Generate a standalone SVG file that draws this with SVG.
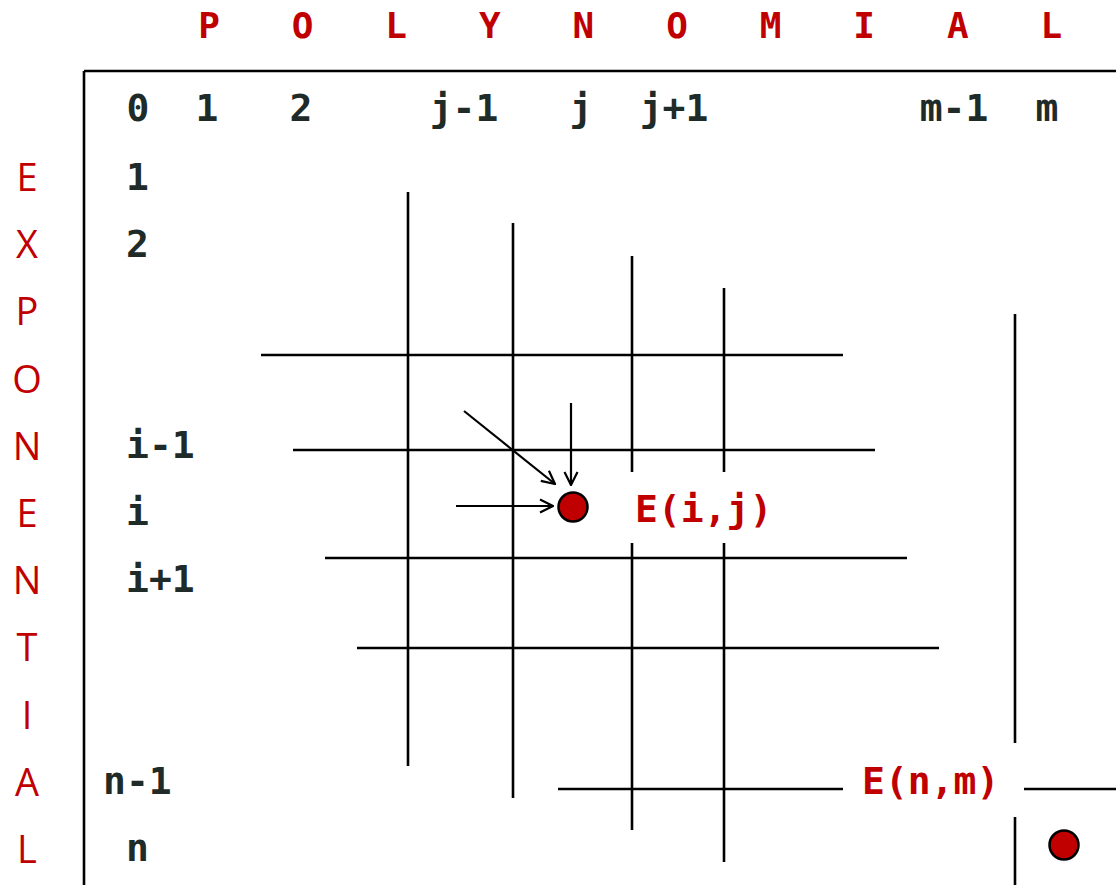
<svg xmlns="http://www.w3.org/2000/svg" width="1116" height="885" viewBox="0 0 1116 885">
<defs>
<style>
.ln{stroke:#000;stroke-width:2.6;fill:none;stroke-linecap:butt}
.ar{stroke:#000;stroke-width:2.2;fill:none}
.title{font-family:"DejaVu Sans Mono","Liberation Mono",monospace;font-weight:bold;font-size:36px;fill:#c00000;text-anchor:middle}
.side{font-family:"Open Sans","Liberation Sans",sans-serif;font-size:38px;fill:#c00000;text-anchor:middle}
.lab{font-family:"DejaVu Sans Mono","Liberation Mono",monospace;font-weight:bold;font-size:38px;fill:#1f2b28}
.hdr{text-anchor:middle}
.red{font-family:"DejaVu Sans Mono","Liberation Mono",monospace;font-weight:bold;font-size:38px;fill:#c00000}
.dot{fill:#c00000;stroke:#000;stroke-width:2.5}
</style>
<marker id="arr" viewBox="0 0 16 16" refX="15" refY="8" markerWidth="16" markerHeight="16" markerUnits="userSpaceOnUse" orient="auto">
<path d="M2,1.5 L15,8 L2,14.5" fill="none" stroke="#000" stroke-width="2.2"/>
</marker>
</defs>
<rect width="1116" height="885" fill="#fff"/>

<g id="title">
<text class="title" y="38" x="209 302.6 396.2 489.8 583.4 677 770.6 864.2 957.8 1051.4">POLYNOMIAL</text>
</g>

<g id="side">
<text class="side" x="27" y="191">E</text>
<text class="side" x="27" y="258.2">X</text>
<text class="side" x="27" y="325.4">P</text>
<text class="side" x="27" y="392.6">O</text>
<text class="side" x="27" y="459.8">N</text>
<text class="side" x="27" y="527">E</text>
<text class="side" x="27" y="594.2">N</text>
<text class="side" x="27" y="661.4">T</text>
<text class="side" x="27" y="728.6">I</text>
<text class="side" x="27" y="795.8">A</text>
<text class="side" x="27" y="863">L</text>
</g>

<g id="frame">
<path class="ln" d="M84,71 H1116 M84,71 V885" stroke-width="3"/>
</g>

<g id="col-labels">
<text class="lab hdr" x="138" y="121">0</text>
<text class="lab hdr" x="207" y="121">1</text>
<text class="lab hdr" x="301" y="121">2</text>
<text class="lab hdr" x="464" y="121">j-1</text>
<text class="lab hdr" x="581" y="121">j</text>
<text class="lab hdr" x="674" y="121">j+1</text>
<text class="lab hdr" x="954" y="121">m-1</text>
<text class="lab hdr" x="1047" y="121">m</text>
</g>

<g id="row-labels">
<text class="lab" x="126" y="190">1</text>
<text class="lab" x="126" y="257">2</text>
<text class="lab" x="126" y="458">i-1</text>
<text class="lab" x="126" y="525">i</text>
<text class="lab" x="126" y="592">i+1</text>
<text class="lab" x="103" y="794">n-1</text>
<text class="lab" x="126" y="861">n</text>
</g>

<g id="grid">
<path class="ln" d="M408,192 V766 M513,223 V798 M632,256 V472 M632,543 V830 M724,288 V472 M724,543 V862 M1015,314 V743 M1015,817 V885"/>
<path class="ln" d="M261,355 H843 M293,450 H875 M325,558 H907 M357,648 H939 M558,789 H843 M1024,789 H1116"/>
</g>

<g id="connectors">
<line class="ar" x1="464" y1="411" x2="555" y2="484" marker-end="url(#arr)"/>
<line class="ar" x1="571" y1="403" x2="571" y2="485" marker-end="url(#arr)"/>
<line class="ar" x1="456" y1="506" x2="553" y2="506" marker-end="url(#arr)"/>
</g>

<g id="node-eij">
<circle class="dot" cx="573" cy="507" r="14.5"/>
<text class="red" x="635" y="522">E(i,j)</text>
</g>

<g id="node-enm">
<circle class="dot" cx="1064" cy="845" r="14.5"/>
<text class="red" x="862" y="794">E(n,m)</text>
</g>
</svg>
